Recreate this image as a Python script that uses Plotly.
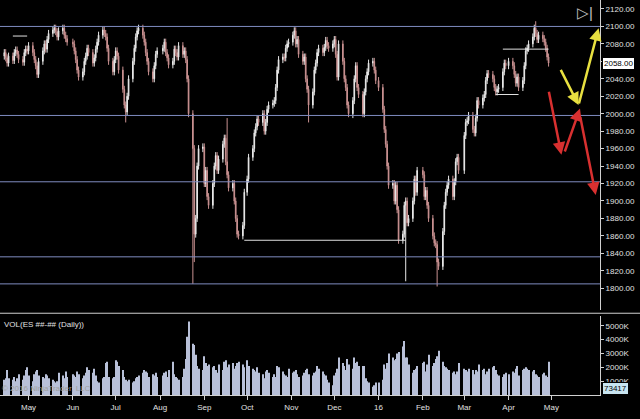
import pandas as pd
import plotly.graph_objects as go

# daily closes per month (ES)
closes = {
    '2015-04': [2070, 2064, 2058, 2066, 2061, 2070, 2073, 2068, 2062, 2059, 2070, 2074, 2072],
    '2015-05': [2078, 2070, 2062, 2055, 2045, 2060, 2072, 2080, 2074, 2085, 2092, 2096, 2098, 2094, 2088, 2095, 2098, 2090, 2086, 2082],
    '2015-06': [2080, 2072, 2062, 2050, 2042, 2048, 2060, 2066, 2075, 2070, 2058, 2064, 2074, 2082, 2090, 2096, 2092, 2088, 2075, 2060, 2048, 2062],
    '2015-07': [2072, 2066, 2050, 2028, 2010, 2002, 2020, 2040, 2060, 2075, 2088, 2095, 2098, 2090, 2082, 2070, 2060, 2048, 2040, 2055, 2068, 2072],
    '2015-08': [2075, 2082, 2070, 2064, 2056, 2060, 2074, 2070, 2065, 2078, 2068, 2072, 2062, 2040, 2000, 1960, 1862, 1880, 1940, 1960, 1962],
    '2015-09': [1920, 1935, 1905, 1895, 1920, 1940, 1952, 1935, 1948, 1965, 1972, 1945, 1930, 1915, 1920, 1900, 1880, 1862, 1860, 1872, 1910],
    '2015-10': [1925, 1950, 1960, 1978, 1985, 1994, 1990, 2000, 1980, 1990, 2005, 2010, 2012, 2015, 2030, 2050, 2062, 2065, 2064, 2075, 2080, 2082],
    '2015-11': [2090, 2095, 2080, 2085, 2068, 2060, 2065, 2040, 2028, 2010, 2025, 2050, 2058, 2070, 2075, 2070, 2076, 2084, 2078, 2075, 2080],
    '2015-12': [2085, 2068, 2042, 2080, 2060, 2040, 2030, 2010, 2000, 2015, 2040, 2055, 2030, 2022, 2000, 2025, 2040, 2048, 2058, 2060, 2050, 2038],
    '2016-01': [2030, 2005, 1982, 1965, 1940, 1918, 1920, 1900, 1918, 1890, 1855, 1862, 1895, 1900, 1875, 1880, 1900, 1925, 1910, 1935],
    '2016-02': [1930, 1905, 1912, 1895, 1880, 1860, 1852, 1850, 1830, 1825, 1865, 1895, 1910, 1918, 1925, 1905, 1922, 1945, 1950, 1935],
    '2016-03': [1975, 1990, 1992, 1998, 1982, 1978, 1995, 2015, 2010, 2018, 2022, 2038, 2046, 2045, 2040, 2030, 2025, 2028, 2030, 2048, 2058, 2055],
    '2016-04': [2060, 2055, 2045, 2035, 2042, 2030, 2038, 2055, 2072, 2075, 2080, 2088, 2098, 2092, 2085, 2090, 2086, 2082, 2075, 2065, 2058],
}

# daily volume in thousands
volumes = {
    '2015-04': [1100, 1200, 1800, 1200, 1100, 1300, 1000, 1200, 1500, 1100, 1400, 1800, 2000],
    '2015-05': [1400, 1000, 1500, 1700, 1800, 1400, 1300, 1200, 1500, 1400, 1200, 1100, 1000, 900, 1000, 1600, 1400, 1200, 1700, 1300],
    '2015-06': [1500, 1400, 1300, 1700, 1500, 1200, 1400, 1600, 2000, 1800, 1600, 1900, 1400, 1000, 900, 1200, 1300, 2300, 2400, 1300, 1200, 1300],
    '2015-07': [2500, 2400, 2100, 1800, 1300, 1100, 1000, 1100, 900, 1000, 1200, 1300, 1400, 1600, 1800, 1700, 1600, 1300, 1500, 1400, 1600, 1300],
    '2015-08': [1400, 1600, 1700, 1300, 1800, 2400, 1500, 1300, 1200, 1100, 1300, 1900, 2600, 4200, 5300, 3700, 3600, 2900, 2100, 1900, 1800],
    '2015-09': [2800, 2300, 2100, 2200, 2000, 2100, 1800, 1600, 2200, 1800, 2400, 2500, 2000, 2200, 2300, 1900, 2100, 2300, 2400, 2200, 2000],
    '2015-10': [2500, 2100, 1900, 1800, 1700, 2000, 1600, 1500, 1200, 1700, 1800, 1600, 1300, 1500, 1300, 2100, 2000, 1700, 1500, 1400, 1300, 1900],
    '2015-11': [1600, 1700, 1800, 1500, 1300, 1400, 1600, 1800, 1900, 1500, 1400, 1600, 1700, 2100, 1900, 1700, 1500, 1400, 1100, 900, 700],
    '2015-12': [1400, 1600, 1900, 2700, 2300, 2100, 1800, 2600, 2200, 1900, 2700, 2300, 2400, 2100, 2100, 2100, 1200, 1000, 900, 600, 700, 900],
    '2016-01': [900, 1100, 2200, 1900, 2300, 3000, 2700, 2500, 2600, 3000, 3100, 3500, 3900, 2700, 2700, 2200, 1600, 1800, 1900, 2100],
    '2016-02': [2300, 2400, 1700, 2200, 2900, 2100, 2300, 2600, 2800, 3200, 2400, 2100, 2000, 1900, 1800, 1600, 1700, 1500, 1700, 2300],
    '2016-03': [1900, 1800, 1700, 1900, 1800, 1500, 1800, 1700, 2200, 1800, 1900, 1500, 1700, 1900, 2000, 2100, 1800, 1500, 1400, 1300, 1500, 1600],
    '2016-04': [1500, 1700, 1600, 1900, 2100, 1400, 1800, 1900, 2000, 1900, 1800, 1700, 1800, 1500, 1400, 1300, 1500, 1600, 1400, 1300, 2400],
}

# long wicks on a few days
spike_lows = {'2015-08-24': 1805, '2015-08-25': 1830, '2016-01-20': 1808, '2016-02-11': 1802,
              '2015-07-08': 1990, '2015-11-13': 1990, '2015-12-14': 1995}
spike_highs = {'2015-09-17': 1995, '2016-04-20': 2106}

month_ticks = ['2015-05-01', '2015-06-01', '2015-07-01', '2015-08-01', '2015-09-01', '2015-10-01',
               '2015-11-01', '2015-12-01', '2016-01-01', '2016-02-01', '2016-03-01', '2016-04-01', '2016-05-01']
month_labels = ['May', 'Jun', 'Jul', 'Aug', 'Sep', 'Oct', 'Nov', 'Dec', '16', 'Feb', 'Mar', 'Apr', 'May']

support_levels = [2100, 1998, 1922, 1836, 1805]

# build the daily frame
rows = []
for month, vals in closes.items():
    start = pd.Timestamp(month + '-01')
    days = pd.bdate_range(start, start + pd.offsets.MonthEnd(0))
    days = days[-len(vals):] if month == '2015-04' else days[:len(vals)]
    for d, c, v in zip(days, vals, volumes[month]):
        rows.append((d, c, v))
df = pd.DataFrame(rows, columns=['date', 'close', 'vol'])
df['open'] = df['close'].shift(1).fillna(df['close'].iloc[0] - 4)
df['high'] = df[['open', 'close']].max(axis=1) + 4
df['low'] = df[['open', 'close']].min(axis=1) - 4
for d, v in spike_lows.items():
    df.loc[df['date'] == d, 'low'] = v
for d, v in spike_highs.items():
    df.loc[df['date'] == d, 'high'] = v

fig = go.Figure()

fig.add_trace(go.Candlestick(
    x=df['date'], open=df['open'], high=df['high'], low=df['low'], close=df['close'],
    increasing=dict(line=dict(color='#e8e8e8', width=1), fillcolor='#ffffff'),
    decreasing=dict(line=dict(color='#c89090', width=1), fillcolor='#e0a8a8'),
    whiskerwidth=0, showlegend=False, xaxis='x', yaxis='y'
))

fig.add_trace(go.Bar(
    x=df['date'], y=df['vol'], marker=dict(color='#b8c0d8', line=dict(width=0)),
    showlegend=False, xaxis='x', yaxis='y2'
))

shapes = []
for lvl in support_levels:
    shapes.append(dict(type='line', xref='paper', yref='y', x0=0, x1=1, y0=lvl, y1=lvl,
                       line=dict(color='#7f8cc0', width=1)))
# white range markers
for x0, x1, yv in [('2015-04-20', '2015-04-30', 2089), ('2015-09-29', '2016-01-20', 1855),
                   ('2016-03-28', '2016-04-29', 2074), ('2016-03-23', '2016-04-08', 2022)]:
    shapes.append(dict(type='line', xref='x', yref='y', x0=x0, x1=x1, y0=yv, y1=yv,
                       line=dict(color='#e0e0e0', width=1)))
# panel separator
shapes.append(dict(type='line', xref='paper', yref='paper', x0=0, x1=1.07, y0=0.207, y1=0.207,
                   line=dict(color='#d0d0d0', width=1)))

annotations = []
for (x0, y0, x1, y1, col) in [
    ('2016-04-29', 2027, '2016-05-08', 1953, '#d83030'),
    ('2016-05-07', 2052, '2016-05-20', 2010, '#e8e040'),
    ('2016-05-20', 2010, '2016-06-03', 2098, '#e8e040'),
    ('2016-05-10', 1955, '2016-05-21', 2006, '#d83030'),
    ('2016-05-21', 1998, '2016-06-01', 1907, '#d83030'),
]:
    annotations.append(dict(x=x1, y=y1, ax=x0, ay=y0, xref='x', yref='y', axref='x', ayref='y',
                            showarrow=True, arrowhead=2, arrowsize=1, arrowwidth=2.5,
                            arrowcolor=col, text=''))

annotations += [
    dict(text='2058.00', xref='paper', yref='y', x=1.003, y=2058, xanchor='left', showarrow=False,
         font=dict(color='#000000', size=8), bgcolor='#ffffff', bordercolor='#000000', borderwidth=1,
         borderpad=1),
    dict(text='73417', xref='paper', yref='y2', x=1.003, y=0, xanchor='left', yanchor='bottom',
         showarrow=False, font=dict(color='#000000', size=8), bgcolor='#c8e4f0',
         bordercolor='#000000', borderwidth=1, borderpad=1),
    dict(text='VOL(ES ##-## (Daily))', xref='paper', yref='paper', x=0.003, y=0.195,
         xanchor='left', yanchor='top', showarrow=False, font=dict(color='#e0e0e0', size=8)),
    dict(text='© 2016 NinjaTrader, LLC', xref='paper', yref='paper', x=0.0, y=0.0,
         xanchor='left', yanchor='bottom', showarrow=False, font=dict(color='#a0a0a0', size=8)),
    dict(text='▷|', xref='paper', yref='paper', x=0.975, y=0.995, xanchor='center', yanchor='top',
         showarrow=False, font=dict(color='#c0c0c0', size=15)),
]

axis_common = dict(showgrid=False, zeroline=False, showline=True, linecolor='#d0d0d0',
                   ticks='outside', tickcolor='#d0d0d0', automargin=False, tickfont=dict(size=8))

fig.update_layout(
    width=640, height=419,
    paper_bgcolor='#000000', plot_bgcolor='#000000',
    margin=dict(l=0, r=40, t=0, b=24),
    font=dict(family='Liberation Sans, Arial, sans-serif', color='#e0e0e0', size=8),
    bargap=0.35,
    xaxis=dict(type='date', range=['2015-04-11', '2016-06-04'], rangeslider=dict(visible=False),
               anchor='y2', tickvals=month_ticks, ticktext=month_labels, ticklen=4, **axis_common),
    yaxis=dict(domain=[0.215, 1], range=[1775, 2130.3], side='right', anchor='x', ticklen=3,
               tickvals=list(range(1800, 2121, 20)),
               ticktext=[f'{v:.2f}' for v in range(1800, 2121, 20)], **axis_common),
    yaxis2=dict(domain=[0, 0.2], range=[0, 5700], side='right', anchor='x', ticklen=3,
                tickvals=[1000, 2000, 3000, 4000, 5000],
                ticktext=['1000K', '2000K', '3000K', '4000K', '5000K'], **axis_common),
    shapes=shapes,
    annotations=annotations,
)

fig.write_html('out.html', config={'displayModeBar': False},
               post_script="document.body.style.margin='0px';")
